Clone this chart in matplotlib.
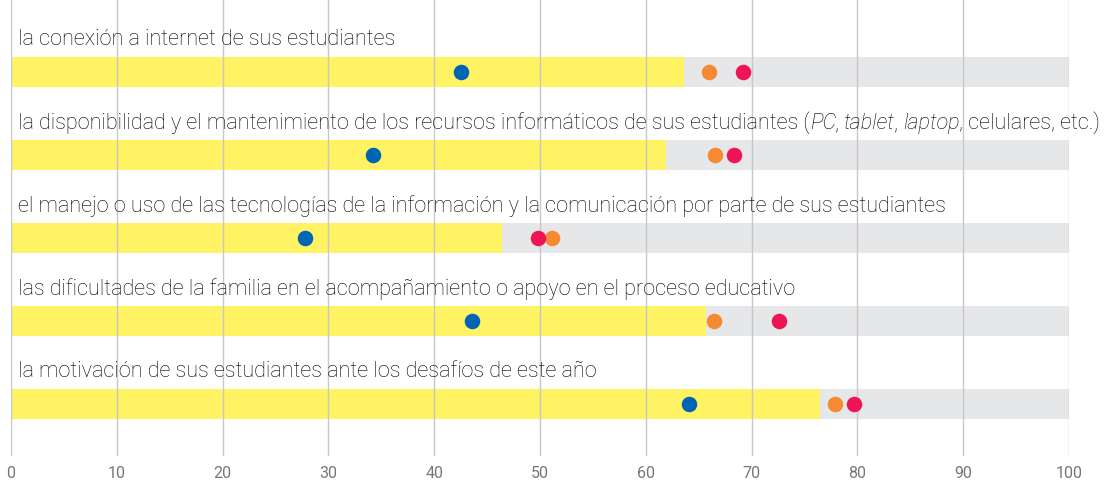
import matplotlib
matplotlib.use("Agg")
import matplotlib.pyplot as plt

plt.rcParams['font.family'] = ['Roboto', 'DejaVu Sans']

# pieces of each label; (text, italic)
labels = [
    [("la conexión a internet de sus estudiantes", False)],
    [("la disponibilidad y el mantenimiento de los recursos informáticos de sus estudiantes (", False),
     ("PC", True), (", ", False), ("tablet", True), (", ", False), ("laptop", True),
     (", celulares, etc.)", False)],
    [("el manejo o uso de las tecnologías de la información y la comunicación por parte de sus estudiantes", False)],
    [("las dificultades de la familia en el acompañamiento o apoyo en el proceso educativo", False)],
    [("la motivación de sus estudiantes ante los desafíos de este año", False)],
]
bar_vals = [63.6, 61.9, 46.4, 65.7, 76.5]
blue_vals = [42.5, 34.2, 27.8, 43.6, 64.1]
orange_vals = [66.0, 66.5, 51.1, 66.4, 77.9]
red_vals = [69.2, 68.3, 49.8, 72.6, 79.7]
ticks = [0, 10, 20, 30, 40, 50, 60, 70, 80, 90, 100]

YELLOW = "#FFF263"
GREY = "#E6E7E9"
BLUE = "#0066B3"
ORANGE = "#F58A33"
RED = "#ED1556"

fig = plt.figure(figsize=(11.14, 4.8), dpi=100)
ax = fig.add_axes([11/1114, 1 - 456/480, (1069-11)/1114, 456/480])

rows = list(range(len(bar_vals)))
ax.barh(rows, [100]*len(rows), height=0.373, color=GREY, zorder=1)
ax.barh(rows, bar_vals, height=0.373, color=YELLOW, zorder=1)
for t in ticks:
    ax.axvline(t, color="#c8c8c8", lw=1, zorder=2)
ax.scatter(blue_vals, rows, s=125, color=BLUE, zorder=3, linewidths=0)
ax.scatter(orange_vals, rows, s=125, color=ORANGE, zorder=3, linewidths=0)
ax.scatter(red_vals, rows, s=125, color=RED, zorder=3, linewidths=0)

for i, parts in enumerate(labels):
    prev = None
    prev_it = False
    for txt, it in parts:
        style = 'italic' if it else 'normal'
        if prev is None:
            prev = ax.text(0.68, i - 0.39, txt, fontsize=15.6, fontweight='light',
                           style=style, color="#000000", va='center', ha='left')
        else:
            # italic bbox overhangs a little, pull next piece back
            dx = -0.8 if prev_it else 0
            prev = ax.annotate(txt, xy=(1, 0), xycoords=prev, xytext=(dx, 0),
                               textcoords='offset points', fontsize=15.6,
                               fontweight='light', style=style, color="#000000",
                               va='bottom', ha='left')
        prev_it = it

ax.set_xlim(0, 100)
ax.set_ylim(4 + 52/83, -72/83)
ax.set_yticks([])
ax.set_xticks(ticks)
ax.tick_params(axis='x', length=0, pad=7, labelsize=11.5, labelcolor="#777777")
for s in ax.spines.values():
    s.set_visible(False)

fig.savefig("out.png", dpi=100)
